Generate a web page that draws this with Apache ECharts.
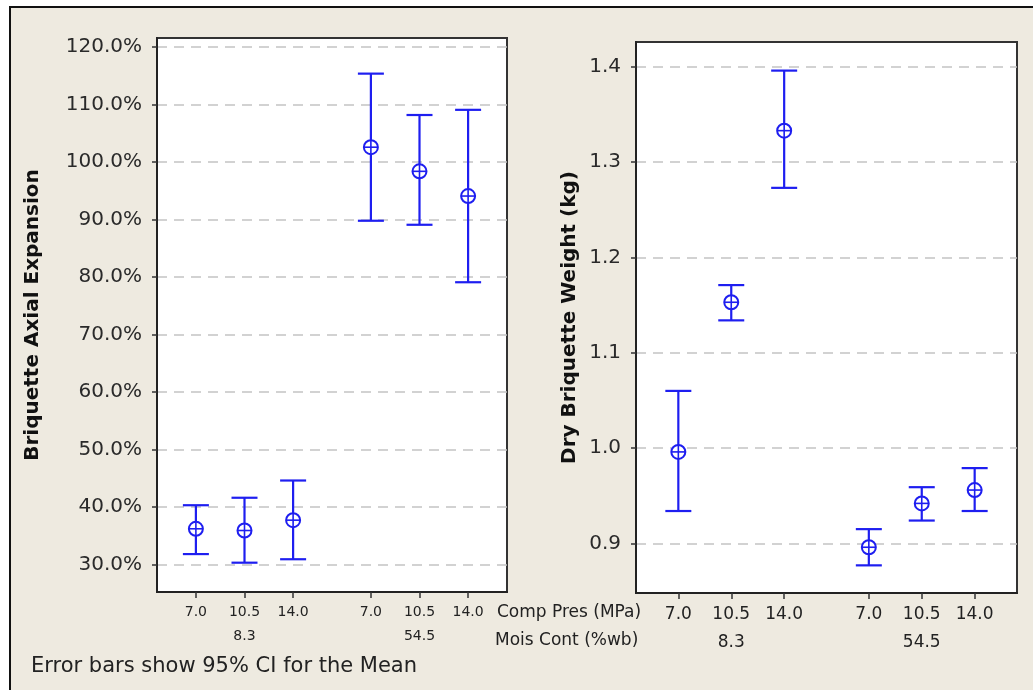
<!DOCTYPE html>
<html>
<head>
<meta charset="utf-8">
<script src="https://cdn.jsdelivr.net/npm/echarts@6/dist/echarts.min.js"></script>
<style>
  html, body { margin: 0; padding: 0; background: #ffffff; }
  #chart { width: 1033px; height: 690px; }
</style>
</head>
<body>
<div id="chart"></div>
<script>
// Factor levels
const compPres = ['7.0', '10.5', '14.0'];      // compaction pressure, MPa
const moisCont = ['8.3', '54.5'];              // moisture content, %wb

// Briquette axial expansion (%): mean and 95% CI, one entry per cell
const expMean  = [36.2, 35.9, 37.7, 102.6, 98.4, 94.1];
const expLow   = [31.8, 30.3, 30.9, 89.8, 89.1, 79.1];
const expHigh  = [40.3, 41.6, 44.6, 115.4, 108.2, 109.1];

// Dry briquette weight (kg): mean and 95% CI
const wtMean   = [0.996, 1.153, 1.333, 0.896, 0.942, 0.956];
const wtLow    = [0.934, 1.134, 1.273, 0.877, 0.924, 0.934];
const wtHigh   = [1.060, 1.171, 1.396, 0.915, 0.959, 0.979];

// Y-axis tick values
const expTicks = [30, 40, 50, 60, 70, 80, 90, 100, 110, 120];
const wtTicks  = [0.9, 1.0, 1.1, 1.2, 1.3, 1.4];

const BLUE = '#1e1ef0';
const GROUP_GAP = 0.6;

// x position of each cell: levels inside a group one unit apart, groups separated by a gap
const cellPos = [];
moisCont.forEach((m, g) => compPres.forEach((p, i) => cellPos.push(g * (compPres.length + GROUP_GAP) + i)));

function cellLabel(v) {
  const k = cellPos.findIndex(p => Math.abs(p - v) < 1e-6);
  if (k < 0) return '';
  const g = Math.floor(k / compPres.length), i = k % compPres.length;
  let s = compPres[i];
  if (i === 1) s += '\n' + moisCont[g];
  return s;
}

function rows(mean, low, high) {
  return mean.map((m, k) => [cellPos[k], m, low[k], high[k]]);
}

function renderErrorBar(params, api) {
  const x = api.value(0);
  const pm = api.coord([x, api.value(1)]);
  const pl = api.coord([x, api.value(2)]);
  const ph = api.coord([x, api.value(3)]);
  const cap = 13, r = 7;
  const st = { stroke: BLUE, lineWidth: 2.2, fill: null };
  return {
    type: 'group',
    children: [
      { type: 'line', shape: { x1: pm[0], y1: ph[1], x2: pm[0], y2: pl[1] }, style: st },
      { type: 'line', shape: { x1: pm[0] - cap, y1: ph[1], x2: pm[0] + cap, y2: ph[1] }, style: st },
      { type: 'line', shape: { x1: pm[0] - cap, y1: pl[1], x2: pm[0] + cap, y2: pl[1] }, style: st },
      { type: 'circle', shape: { cx: pm[0], cy: pm[1], r: r }, style: { stroke: BLUE, lineWidth: 2, fill: '#ffffff' } },
      { type: 'line', shape: { x1: pm[0] - r, y1: pm[1], x2: pm[0] + r, y2: pm[1] }, style: { stroke: BLUE, lineWidth: 1.6 } },
      { type: 'line', shape: { x1: pm[0], y1: pm[1] - r, x2: pm[0], y2: pm[1] + r }, style: { stroke: BLUE, lineWidth: 1.6 } }
    ]
  };
}

const FONT = 'DejaVu Sans';

function yAxisCfg(idx, min, max, ticks, fmt, name, nameGap) {
  return {
    type: 'value', gridIndex: idx, min: min, max: max,
    name: name, nameLocation: 'middle', nameGap: nameGap, nameRotate: 90,
    nameTextStyle: { fontFamily: FONT, fontWeight: 'bold', fontSize: 20, color: '#111' },
    axisLine: { show: true, onZero: false, lineStyle: { color: '#222', width: 2 } },
    axisTick: { show: true, length: 5, customValues: ticks, lineStyle: { color: '#333', width: 1.5 } },
    axisLabel: { customValues: ticks, formatter: fmt, margin: 15, fontFamily: FONT, fontSize: 20, color: '#2a2a2a' },
    splitLine: { show: true, lineStyle: { color: '#c4c4c4', width: 1.5, type: [10, 7] } }
  };
}

function xAxisCfg(idx, fontSize, lineHeight) {
  return {
    type: 'value', gridIndex: idx, min: -0.8, max: 6.4,
    axisLine: { show: true, onZero: false, lineStyle: { color: '#222', width: 2 } },
    axisTick: { show: true, length: 6, customValues: cellPos, lineStyle: { color: '#333', width: 1.5 } },
    axisLabel: { customValues: cellPos, formatter: v => cellLabel(v), margin: 8,
                 fontFamily: FONT, fontSize: fontSize, lineHeight: lineHeight, color: '#222' },
    splitLine: { show: false }
  };
}

const chart = echarts.init(document.getElementById('chart'), null, { renderer: 'canvas' });

chart.setOption({
  backgroundColor: '#ffffff',
  animation: false,
  graphic: [
    { type: 'rect', z: -10, shape: { x: 10, y: 7, width: 1040, height: 700 },
      style: { fill: '#eeeae0', stroke: '#111', lineWidth: 2 } },
    { type: 'text', left: 497, top: 604, style: { text: 'Comp Pres (MPa)', font: '17px "DejaVu Sans"', fill: '#222' } },
    { type: 'text', left: 495, top: 632, style: { text: 'Mois Cont (%wb)', font: '17px "DejaVu Sans"', fill: '#222' } },
    { type: 'text', left: 31, top: 656, style: { text: 'Error bars show 95% CI for the Mean', font: '21px "DejaVu Sans"', fill: '#222' } }
  ],
  grid: [
    { left: 157, top: 38, width: 350, height: 554, show: true, backgroundColor: '#ffffff', borderColor: '#333', borderWidth: 2 },
    { left: 636, top: 42, width: 381, height: 551, show: true, backgroundColor: '#ffffff', borderColor: '#333', borderWidth: 2 }
  ],
  xAxis: [ xAxisCfg(0, 14, 24), xAxisCfg(1, 17, 28) ],
  yAxis: [
    yAxisCfg(0, 25.2, 121.6, expTicks, v => v.toFixed(1) + '%', 'Briquette Axial Expansion', 114),
    yAxisCfg(1, 0.848, 1.426, wtTicks, v => v.toFixed(1), 'Dry Briquette Weight (kg)', 56)
  ],
  series: [
    { type: 'custom', xAxisIndex: 0, yAxisIndex: 0, renderItem: renderErrorBar,
      encode: { x: 0, y: 1 }, data: rows(expMean, expLow, expHigh) },
    { type: 'custom', xAxisIndex: 1, yAxisIndex: 1, renderItem: renderErrorBar,
      encode: { x: 0, y: 1 }, data: rows(wtMean, wtLow, wtHigh) }
  ]
});
</script>
</body>
</html>
